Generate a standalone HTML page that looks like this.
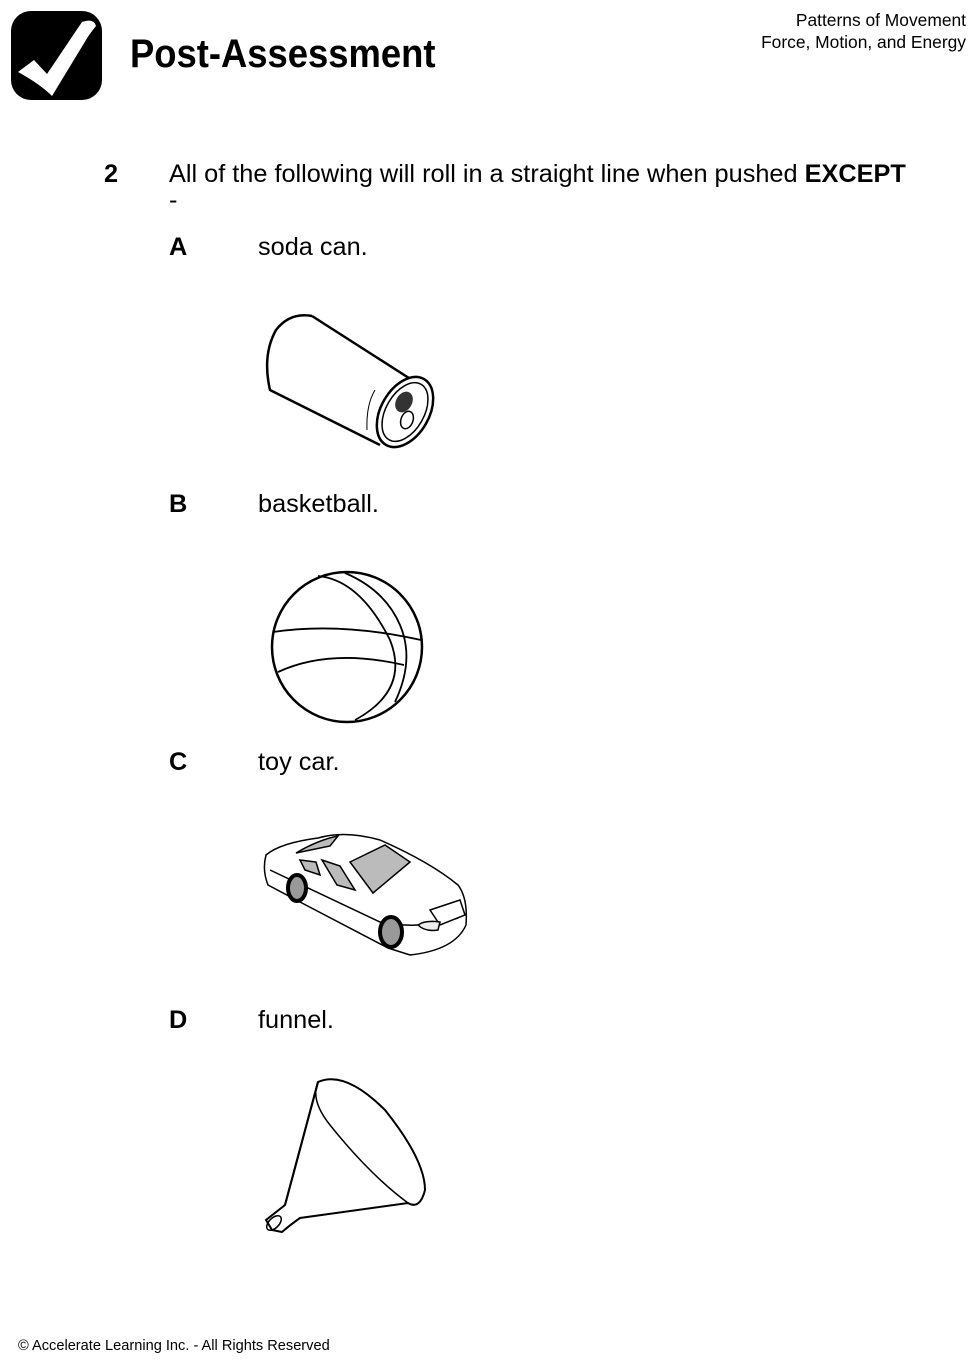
<!DOCTYPE html>
<html><head><meta charset="utf-8"><style>
body{margin:0;width:978px;height:1369px;background:#fff;position:relative;font-family:"Liberation Sans",Arial,sans-serif;color:#000;overflow:hidden}
.a{position:absolute;white-space:nowrap}
.q{font-size:25.3px}
</style></head><body>
<svg class="a" style="left:10px;top:10px" width="94" height="92" viewBox="0 0 94 92">
<rect x="1" y="1" width="91" height="89" rx="20" fill="#000"/>
<path d="M8 62 L24 50 L37 64 L72 12 Q84 8 86 16 Q78 26 76 30 L42 86 Q30 74 8 62Z" fill="#fff"/>
</svg>
<div class="a" style="left:130px;top:32px;font-size:40px;font-weight:bold;font-family:'Liberation Sans Narrow','Liberation Sans',sans-serif;transform:scaleX(0.91);transform-origin:left">Post-Assessment</div>
<div class="a" style="right:12px;top:9px;font-size:17.4px;text-align:right;line-height:22px">Patterns of Movement<br>Force, Motion, and Energy</div>

<div class="a q" style="left:104px;top:160px;font-weight:bold">2</div>
<div class="a q" style="left:169px;top:160px">All of the following will roll in a straight line when pushed <b>EXCEPT</b></div>
<div class="a q" style="left:169px;top:186px">-</div>

<div class="a q" style="left:169px;top:233px;font-weight:bold">A</div>
<div class="a q" style="left:258px;top:233px">soda can.</div>
<div class="a q" style="left:169px;top:490px;font-weight:bold">B</div>
<div class="a q" style="left:258px;top:490px">basketball.</div>
<div class="a q" style="left:169px;top:748px;font-weight:bold">C</div>
<div class="a q" style="left:258px;top:748px">toy car.</div>
<div class="a q" style="left:169px;top:1006px;font-weight:bold">D</div>
<div class="a q" style="left:258px;top:1006px">funnel.</div>

<svg class="a" style="left:0;top:0" width="978" height="1369" fill="none" stroke="#000" stroke-width="2.5">
<path d="M312 316 Q290 312 276 330 Q262 355 270 390 L380 445"/>
<path d="M312 316 L412 380"/>
<ellipse cx="405" cy="412" rx="24" ry="38" transform="rotate(30 405 412)" fill="#fff"/>
<ellipse cx="405" cy="412" rx="19" ry="32" transform="rotate(30 405 412)" stroke-width="1.5"/>
<ellipse cx="404" cy="402" rx="8" ry="11" transform="rotate(30 404 402)" fill="#333" stroke="none"/>
<ellipse cx="407" cy="420" rx="6" ry="9" transform="rotate(20 407 420)" stroke-width="1.5" fill="#fff"/>
<path d="M375 390 Q366 405 367 430" stroke-width="1"/>
<circle cx="347" cy="647" r="75"/>
<path d="M273 632 Q340 622 421 640" stroke-width="1.8"/>
<path d="M278 672 Q330 648 404 665" stroke-width="1.8"/>
<path d="M318 576 Q360 580 390 640 Q410 690 355 720" stroke-width="1.8"/>
<path d="M345 573 Q385 590 400 625 Q415 660 395 702" stroke-width="1.8"/>
<g stroke-width="1.5">
<path d="M266 855 Q280 843 318 838 Q345 830 380 840 Q430 862 458 885 Q468 898 466 925 Q455 950 410 955 L388 948 L300 902 L268 885 Q262 870 266 855Z" fill="#fff"/>
<path d="M270 870 L380 922 Q420 930 458 918"/>
<path d="M350 862 L385 845 L410 862 L373 893Z" fill="#bbb"/>
<path d="M322 860 L340 866 L355 890 L337 885Z" fill="#bbb"/>
<path d="M300 860 L316 862 L320 875 L305 870Z" fill="#bbb"/>
<path d="M296 853 Q318 840 338 836 L330 846 Z" fill="#bbb"/>
<path d="M430 910 L460 900 L465 915 L440 925Z" fill="#fff"/>
<ellipse cx="297" cy="888" rx="9" ry="13" fill="#999" stroke-width="4"/>
<ellipse cx="391" cy="932" rx="11" ry="15" fill="#999" stroke-width="4"/>
<path d="M418 925 Q425 920 440 922 L438 930 Q425 932 418 925Z" fill="#eee"/>
</g>
<path d="M318 1082 Q345 1070 385 1110 Q425 1160 425 1190 Q420 1210 408 1203 L300 1218 Q290 1225 282 1232 L272 1230 L266 1220 L285 1205 Z" fill="#fff" stroke-width="2"/>
<path d="M318 1082 Q310 1100 330 1125 Q370 1175 408 1203" stroke-width="1.5"/>
<path d="M318 1082 L285 1205" stroke-width="2"/>
<ellipse cx="274" cy="1223" rx="5" ry="9" transform="rotate(45 274 1223)" stroke-width="1.5"/>
</svg>

<div class="a" style="left:18px;top:1338px;font-size:14.6px">© Accelerate Learning Inc. - All Rights Reserved</div>
</body></html>
